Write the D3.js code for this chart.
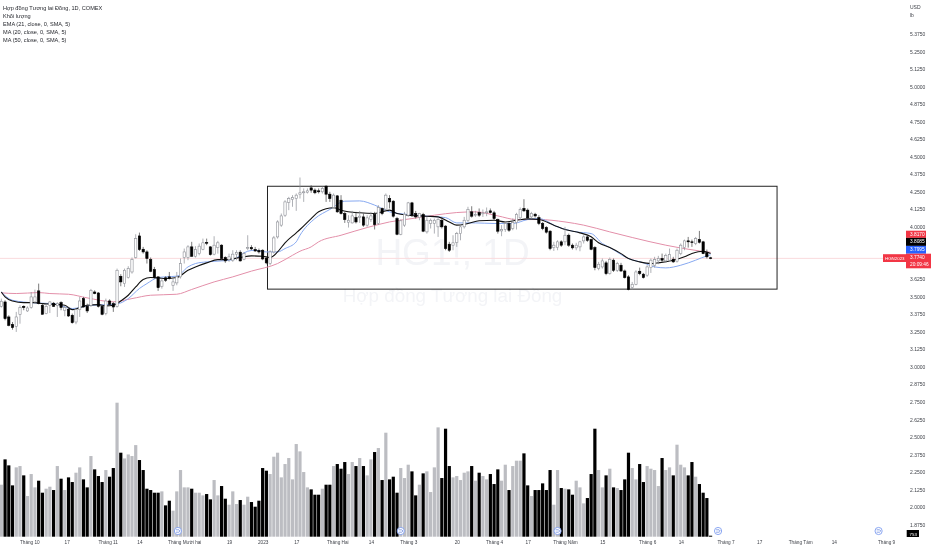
<!DOCTYPE html>
<html><head><meta charset="utf-8">
<script src="https://cdn.jsdelivr.net/npm/d3@7"></script>
<style>html,body{margin:0;padding:0;background:#fff;overflow:hidden}svg{display:block;filter:blur(0.3px)}text{font-family:"Liberation Sans",Arial,sans-serif}</style>
</head><body><svg id="c" width="932" height="550"></svg>
<script>
const openP=[3.432,3.463,3.356,3.303,3.289,3.375,3.432,3.399,3.423,3.463,3.542,3.439,3.380,3.439,3.454,3.439,3.458,3.404,3.411,3.368,3.320,3.408,3.487,3.432,3.439,3.534,3.527,3.432,3.380,3.470,3.451,3.432,3.646,3.594,3.637,3.677,3.780,3.934,3.839,3.820,3.765,3.694,3.642,3.575,3.635,3.642,3.582,3.599,3.642,3.780,3.780,3.856,3.789,3.808,3.839,3.887,3.856,3.804,3.851,3.868,3.780,3.765,3.761,3.804,3.818,3.768,3.844,3.851,3.837,3.830,3.832,3.775,3.737,3.820,3.927,4.011,4.082,4.173,4.194,4.201,4.232,4.242,4.246,4.277,4.261,4.256,4.249,4.289,4.232,4.137,4.220,4.189,4.094,4.032,4.027,4.065,4.065,4.070,4.011,4.051,4.087,4.023,4.130,4.125,4.201,4.182,4.058,3.946,4.011,4.082,4.170,4.094,4.065,4.087,3.963,4.023,4.023,3.999,4.046,4.004,3.875,3.868,3.887,3.951,3.999,4.046,4.106,4.082,4.101,4.092,4.099,4.113,4.099,4.051,3.970,3.980,4.023,3.987,4.030,4.063,4.130,4.118,4.070,4.089,4.065,4.023,3.994,3.968,3.851,3.851,3.892,3.892,3.939,3.868,3.849,3.856,3.899,3.927,3.908,3.851,3.701,3.713,3.742,3.665,3.761,3.689,3.725,3.684,3.642,3.565,3.589,3.682,3.661,3.654,3.708,3.725,3.756,3.773,3.756,3.761,3.768,3.754,3.808,3.851,3.899,3.892,3.880,3.908,3.892,3.816,3.778];
const highP=[3.487,3.475,3.368,3.320,3.392,3.439,3.439,3.432,3.534,3.551,3.594,3.451,3.451,3.470,3.463,3.461,3.468,3.434,3.427,3.380,3.415,3.499,3.499,3.451,3.556,3.546,3.534,3.442,3.487,3.482,3.463,3.701,3.661,3.701,3.718,3.780,3.946,3.958,3.856,3.832,3.780,3.713,3.646,3.630,3.646,3.677,3.637,3.677,3.773,3.844,3.868,3.892,3.861,3.880,3.915,3.915,3.861,3.932,3.899,3.875,3.789,3.808,3.832,3.832,3.832,3.820,3.939,3.868,3.856,3.844,3.839,3.785,3.832,3.934,4.046,4.094,4.189,4.213,4.225,4.237,4.351,4.273,4.273,4.296,4.273,4.273,4.285,4.296,4.249,4.237,4.225,4.225,4.106,4.082,4.113,4.106,4.113,4.094,4.082,4.106,4.106,4.154,4.137,4.237,4.225,4.189,4.070,4.051,4.106,4.177,4.177,4.113,4.099,4.099,4.070,4.058,4.058,4.065,4.070,4.011,3.892,3.939,3.963,4.011,4.070,4.142,4.146,4.113,4.130,4.123,4.137,4.130,4.113,4.058,4.011,4.034,4.034,4.058,4.099,4.137,4.196,4.130,4.106,4.099,4.082,4.034,4.004,3.975,3.892,3.903,3.903,3.999,3.951,3.880,3.885,3.899,3.939,3.939,3.915,3.861,3.749,3.773,3.756,3.780,3.773,3.749,3.742,3.694,3.654,3.606,3.689,3.708,3.670,3.725,3.773,3.785,3.792,3.808,3.808,3.844,3.785,3.844,3.880,3.908,3.927,3.908,3.927,3.970,3.899,3.837,3.785];
const lowP=[3.423,3.332,3.289,3.265,3.249,3.308,3.404,3.392,3.415,3.451,3.446,3.375,3.375,3.384,3.427,3.356,3.404,3.361,3.356,3.308,3.304,3.356,3.423,3.384,3.427,3.518,3.423,3.368,3.368,3.439,3.392,3.423,3.575,3.570,3.630,3.665,3.773,3.827,3.808,3.737,3.675,3.630,3.542,3.558,3.606,3.623,3.542,3.582,3.630,3.737,3.761,3.785,3.780,3.796,3.832,3.868,3.794,3.796,3.808,3.761,3.742,3.749,3.749,3.761,3.751,3.761,3.832,3.832,3.820,3.808,3.761,3.732,3.725,3.808,3.915,3.999,4.070,4.118,4.142,4.113,4.201,4.177,4.237,4.242,4.232,4.237,4.237,4.177,4.177,4.130,4.099,4.087,4.027,3.994,4.023,4.023,4.027,3.999,3.999,4.034,3.980,4.011,4.082,4.113,4.130,4.065,3.939,3.939,3.999,4.070,4.070,4.058,4.046,3.961,3.951,3.987,3.951,3.927,3.987,3.832,3.820,3.832,3.856,3.903,3.987,4.034,4.065,4.070,4.070,4.070,4.075,4.094,4.046,3.951,3.932,3.963,3.963,3.975,3.980,4.046,4.106,4.051,4.058,4.065,4.011,3.975,3.951,3.832,3.827,3.832,3.856,3.868,3.856,3.837,3.832,3.825,3.880,3.892,3.832,3.689,3.689,3.701,3.654,3.658,3.677,3.677,3.677,3.630,3.546,3.551,3.582,3.654,3.630,3.642,3.670,3.708,3.732,3.749,3.742,3.749,3.742,3.744,3.796,3.832,3.851,3.856,3.868,3.880,3.804,3.773,3.768];
const closeP=[3.468,3.344,3.296,3.280,3.356,3.423,3.423,3.420,3.499,3.499,3.451,3.375,3.432,3.463,3.432,3.451,3.423,3.423,3.363,3.315,3.408,3.470,3.427,3.399,3.546,3.523,3.432,3.375,3.470,3.446,3.427,3.689,3.606,3.689,3.701,3.765,3.915,3.837,3.820,3.773,3.682,3.637,3.565,3.613,3.618,3.630,3.606,3.642,3.737,3.820,3.856,3.789,3.837,3.861,3.885,3.882,3.801,3.868,3.885,3.773,3.756,3.785,3.804,3.816,3.756,3.808,3.851,3.842,3.827,3.820,3.770,3.742,3.820,3.920,4.034,4.077,4.177,4.201,4.208,4.225,4.242,4.249,4.256,4.261,4.242,4.249,4.273,4.232,4.201,4.225,4.106,4.094,4.051,4.046,4.077,4.034,4.075,4.011,4.063,4.077,4.015,4.137,4.094,4.225,4.177,4.075,3.946,4.042,4.089,4.170,4.082,4.070,4.094,3.968,4.046,4.046,4.046,4.051,3.999,3.844,3.832,3.885,3.951,3.999,4.046,4.123,4.075,4.087,4.082,4.099,4.106,4.101,4.058,3.968,3.980,4.023,3.975,4.030,4.087,4.123,4.113,4.063,4.094,4.077,4.023,3.987,3.961,3.844,3.868,3.892,3.868,3.939,3.868,3.849,3.868,3.892,3.927,3.903,3.839,3.708,3.732,3.756,3.665,3.765,3.689,3.737,3.684,3.637,3.551,3.589,3.677,3.665,3.637,3.713,3.761,3.765,3.773,3.761,3.796,3.801,3.749,3.832,3.868,3.899,3.892,3.887,3.915,3.889,3.808,3.785,3.774];
const volume=[39,58,53.5,38.5,52,53,46,30.5,47,37,42,33,36,37.5,35,53,43.5,35,44.5,41,48,52,43,37,60.5,50.5,45.5,41,50,45,51.5,100.5,63,58.7,61.7,60.5,68.7,57.5,50,36,35,33,33,34,23.5,27,19.5,34,50,37,37,36,33,33,31,32,28,42.5,31,38,28.5,24,34,24.5,27.5,24,30,26,22.5,27,51.5,49.5,47,60,63,44.5,54.5,59,43,69.5,64,48.5,37,35.5,31.5,31.5,36,39,39,53,54.5,51,56,47,56,53,59,53,46,58,63.5,66.5,42.5,78,43,45,33,51.5,44,54,49,31,39,47.5,49,33.5,52,82,44,81,53,44.5,45.5,42.5,48,49,53,42,48,45.5,43,47,39.5,50.5,42,54,35,53,57,57,62.5,38.5,30.5,35,35,40,35,50,24,50,36.5,36,35.5,31.5,42,37,25,29,47,81,50,37,46,51,37,36.5,35,43,63,51.5,43,54.5,41,53,51,50,38,59,50,52,46,69,54,52,46,56,45,39.5,33,29,0.753];

const ma20Idx=[0,1,3,6,9,11,14,17,19,21,23,26,28,30,32,34,36,38,40,42,44,47,50,52,55,58,60,64,67,70,72,74,76,79,80,83,85,89,91,96,100,104,106,109,114,117,120,122,125,128,132,135,138,141,144,148,151,155,158,160,163,166,168,171,174,176,180,183,185,188,190];
const ma20Val=[3.534,3.499,3.470,3.458,3.458,3.451,3.446,3.439,3.408,3.423,3.439,3.444,3.435,3.439,3.470,3.511,3.570,3.623,3.637,3.635,3.630,3.637,3.689,3.713,3.742,3.765,3.765,3.780,3.792,3.789,3.780,3.820,3.885,3.956,3.980,4.058,4.106,4.135,4.118,4.099,4.094,4.118,4.094,4.082,4.075,4.070,4.034,4.011,4.023,4.042,4.046,4.034,4.046,4.056,4.051,4.011,3.980,3.956,3.928,3.885,3.851,3.808,3.773,3.749,3.737,3.742,3.761,3.785,3.808,3.825,3.8085];
const emaIdx=[0,3,9,14,19,24,30,32,34,37,39,42,44,47,50,52,55,59,62,66,68,71,74,76,79,80,84,88,92,96,100,104,109,114,119,122,127,132,137,141,144,149,154,158,161,163,168,172,175,178,182,186,189,190];
const emaVal=[3.534,3.475,3.456,3.451,3.416,3.439,3.446,3.456,3.487,3.559,3.594,3.637,3.642,3.647,3.713,3.737,3.749,3.756,3.765,3.825,3.832,3.820,3.820,3.844,3.892,3.939,4.058,4.123,4.182,4.184,4.154,4.106,4.087,4.075,4.065,4.027,4.027,4.023,4.023,4.051,4.058,3.999,3.963,3.951,3.880,3.851,3.773,3.742,3.713,3.706,3.725,3.761,3.792,3.7995];
const ma50Idx=[0,4,10,13,18,23,30,35,40,47,51,57,62,67,74,78,80,83,85,91,98,104,110,116,122,127,133,138,144,151,156,163,169,178,187,190];
const ma50Val=[3.528,3.523,3.530,3.523,3.518,3.492,3.464,3.487,3.511,3.518,3.552,3.606,3.642,3.683,3.737,3.796,3.825,3.856,3.892,3.939,3.994,4.034,4.058,4.082,4.101,4.106,4.077,4.051,4.051,4.034,4.011,3.963,3.923,3.868,3.827,3.817];

const priceTicks=[5.375,5.25,5.125,5,4.875,4.75,4.625,4.5,4.375,4.25,4.125,4,3.625,3.5,3.375,3.25,3.125,3,2.875,2.75,2.625,2.5,2.375,2.25,2.125,2,1.875];
const timeIdx=[7.5,17.5,28.5,37,49,61,70,79,90,99,109,122,132,141,151,161,173,182,194,203,214,223,237];
const timeLabels=["Tháng 10","17","Tháng 11","14","Tháng Mười hai","19","2023","17","Tháng Hai","14","Tháng 3","20","Tháng 4","17","Tháng Năm","15","Tháng 6","14","Tháng 7","17","Tháng Tám","14","Tháng 9"];
const eventIdx=[47.3,107,149,192,235];
const legendLines=["Hợp đồng Tương lai Đồng, 1D, COMEX","Khối lượng","EMA (21, close, 0, SMA, 5)","MA (20, close, 0, SMA, 5)","MA (50, close, 0, SMA, 5)"];
const boxBars=[71.3,207.8];
const boxPrices=[4.2885,3.5545];
const lastPrice=3.774, ma50Last=3.817, ma20Last=3.8085, emaLast=3.7995;

const svg=d3.select("#c");
const x=d3.scaleLinear().domain([0,190]).range([1.33,710.6]);
const y=d3.scaleLinear().domain([1.875,5.375]).range([524.5,34]);
const v=d3.scaleLinear().domain([0,100.5]).range([536.7,402.7]);
const idx=d3.range(openP.length);
const GREY="#bcbdc2",DARK="#000",AX="#3f4249";

// watermark
svg.append("text").attr("x",452.5).attr("y",265).attr("text-anchor","middle").attr("font-size",37).attr("fill","#f3f4f7").text("HG1!, 1D");
svg.append("text").attr("x",452.5).attr("y",302).attr("text-anchor","middle").attr("font-size",18.8).attr("fill","#f3f4f7").text("Hợp đồng Tương lai Đồng");

// volume
svg.append("g").selectAll("rect").data(idx).join("rect")
 .attr("x",i=>x(i)-1.6).attr("width",3.2)
 .attr("y",i=>v(volume[i])).attr("height",i=>v(0)-v(volume[i]))
 .attr("fill",i=>closeP[i]>=openP[i]?GREY:DARK);

// last-price line
svg.append("line").attr("x1",0).attr("x2",906).attr("y1",y(lastPrice)).attr("y2",y(lastPrice)).attr("stroke","#fadadd").attr("stroke-width",1);

// box
svg.append("rect").attr("x",x(boxBars[0])).attr("y",y(boxPrices[0])).attr("width",x(boxBars[1])-x(boxBars[0])).attr("height",y(boxPrices[1])-y(boxPrices[0])).attr("fill","none").attr("stroke","#222").attr("stroke-width",1);

// moving averages
function drawLine(ix,val,col,w){
 const l=d3.line().x((d,k)=>x(ix[k])).y(d=>y(d)).curve(d3.curveMonotoneX);
 svg.append("path").attr("d",l(val)).attr("fill","none").attr("stroke",col).attr("stroke-width",w);
}
drawLine(ma50Idx,ma50Val,"#e38fa9",1);
drawLine(emaIdx,emaVal,"#86a8f0",1);
drawLine(ma20Idx,ma20Val,"#111",1.1);

// candles
const g=svg.append("g");
g.selectAll("line").data(idx).join("line")
 .attr("x1",i=>x(i)).attr("x2",i=>x(i)).attr("y1",i=>y(highP[i])).attr("y2",i=>y(lowP[i]))
 .attr("stroke",i=>closeP[i]>=openP[i]?"#8d8f96":"#444").attr("stroke-width",0.7);
g.selectAll("rect").data(idx).join("rect")
 .attr("x",i=>x(i)-1.15).attr("width",2.3)
 .attr("y",i=>y(Math.max(openP[i],closeP[i])))
 .attr("height",i=>Math.max(0.7,Math.abs(y(openP[i])-y(closeP[i]))))
 .attr("fill",i=>closeP[i]>=openP[i]?"#fff":"#000")
 .attr("stroke",i=>closeP[i]>=openP[i]?"#8d8f96":"#000").attr("stroke-width",0.6);

// axes
const yAxis=d3.axisRight(y).tickValues(priceTicks).tickSize(0).tickPadding(0).tickFormat(d3.format(".4f"));
const ya=svg.append("g").attr("transform","translate(910,0)").call(yAxis);
ya.select(".domain").remove();
ya.selectAll("text").attr("font-size",5).attr("fill",AX).style("font-family",'"Liberation Sans",Arial,sans-serif');

const xAxis=d3.axisBottom(x).tickValues(timeIdx).tickSize(0).tickPadding(3.5).tickFormat((d,k)=>timeLabels[k]);
const xa=svg.append("g").attr("transform","translate(0,537)").call(xAxis);
xa.select(".domain").remove();
xa.selectAll("text").attr("font-size",4.7).attr("fill",AX).style("font-family",'"Liberation Sans",Arial,sans-serif');

// event markers
const ev=svg.append("g").selectAll("g").data(eventIdx).join("g").attr("transform",d=>`translate(${x(d)},531)`);
ev.append("circle").attr("r",3.6).attr("fill","#fff").attr("stroke","#7f9ef0").attr("stroke-width",0.9);
ev.append("path").attr("d","M-2,-1.2L1,-1.2L2.2,0L1,1.2L-2,1.2").attr("fill","none").attr("stroke","#5f7fdc").attr("stroke-width",0.7);

// legend
svg.append("g").selectAll("text").data(legendLines).join("text")
 .attr("x",3).attr("y",(d,i)=>9.5+i*8.1).attr("font-size",5.6).attr("fill","#26282e").text(d=>d);

// axis unit
svg.append("text").attr("x",910).attr("y",9).attr("font-size",5).attr("fill",AX).text("USD");
svg.append("text").attr("x",910).attr("y",17).attr("font-size",5).attr("fill",AX).text("lb");

// price labels
function tag(x0,y0,w,h,col,lines,anchorX,fs){
 svg.append("rect").attr("x",x0).attr("y",y0).attr("width",w).attr("height",h).attr("fill",col);
 lines.forEach((t,i)=>svg.append("text").attr("x",anchorX).attr("y",y0+5.5+i*7).attr("font-size",fs||4.8).attr("fill","#fff").text(t));
}
tag(906,230.7,20,7.2,"#f23645",[d3.format(".4f")(ma50Last)],910);
tag(906,237.9,20,8,"#000",[d3.format(".4f")(ma20Last)],910);
tag(906,245.9,20,7.8,"#2962ff",[d3.format(".4f")(emaLast)],910);
tag(906,253.7,25,14.6,"#f23645",[d3.format(".4f")(lastPrice),"20:09:46"],910);
tag(883,254.2,23,7.8,"#f23645",["HGN2023"],885,4.4);
tag(906.7,530,12.3,7,"#000",[d3.format("d")(volume[190]*1000)],909.5,4.4);
</script></body></html>
